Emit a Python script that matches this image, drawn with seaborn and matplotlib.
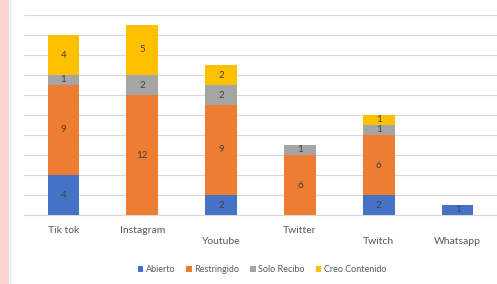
import numpy as np
import pandas as pd
import matplotlib.pyplot as plt
from matplotlib.patches import Rectangle
import seaborn as sns

# Data
platforms = ['Tik tok', 'Instagram', 'Youtube', 'Twitter', 'Twitch', 'Whatsapp']
abierto = [4, 0, 2, 0, 2, 1]
restringido = [9, 12, 9, 6, 6, 0]
solo_recibo = [1, 2, 2, 1, 1, 0]
creo_contenido = [4, 5, 2, 0, 1, 0]
# which tick labels sit on the lower row (Excel staggers them)
lower_row = [False, False, True, False, True, True]

series_names = ['Abierto', 'Restringido', 'Solo Recibo', 'Creo Contenido']
series_colors = ['#4472C4', '#ED7D31', '#A5A5A5', '#FFC000']

sns.set_theme(style='white')
plt.rcParams['font.family'] = ['Lato', 'DejaVu Sans']

df = pd.DataFrame({
    'platform': platforms,
    'Abierto': abierto,
    'Restringido': restringido,
    'Solo Recibo': solo_recibo,
    'Creo Contenido': creo_contenido,
})
cum = df[series_names].cumsum(axis=1)

fig = plt.figure(figsize=(4.97, 2.84), dpi=100)
fig.patches.append(Rectangle((0, 0), 9 / 497, 1, transform=fig.transFigure,
                             facecolor='#FCD5D3', edgecolor='none', zorder=0))
fig.lines.append(plt.Line2D([9.5 / 497, 9.5 / 497], [0, 1], transform=fig.transFigure,
                            color='#E6E6E6', linewidth=0.8))
ax = fig.add_axes([24 / 497, 69 / 284, 473 / 497, 200 / 284])

# stacked bars: draw cumulative totals from top series down
for name, color in reversed(list(zip(series_names, series_colors))):
    sns.barplot(x=df['platform'], y=cum[name], color=color, width=0.4,
                saturation=1, ax=ax, label=name, zorder=3, linewidth=0)

# value labels in the middle of each segment
for i, p in enumerate(platforms):
    for name in series_names:
        v = df.loc[i, name]
        if v > 0:
            ax.text(i, cum.loc[i, name] - v / 2, str(v), ha='center', va='center',
                    fontsize=7, color='#404040', zorder=4)

ax.set_ylim(0, 20)
ax.set_yticks(np.arange(0, 21, 2))
ax.set_yticklabels([])
ax.tick_params(axis='y', length=0)
ax.yaxis.grid(True, color='#D9D9D9', linewidth=0.8, zorder=0)
ax.set_axisbelow(True)
ax.set_xlim(-0.5, len(platforms) - 0.5)
ax.set_xticks(range(len(platforms)))
ax.set_xticklabels(['\n' + p if low else p for p, low in zip(platforms, lower_row)],
                   fontsize=7.5, color='#595959')
ax.tick_params(axis='x', length=0, pad=8)
ax.set_xlabel('')
ax.set_ylabel('')
for s in ['top', 'right', 'left']:
    ax.spines[s].set_visible(False)
ax.spines['bottom'].set_color('#D9D9D9')
ax.spines['bottom'].set_linewidth(0.8)

handles, labels = ax.get_legend_handles_labels()
order = [labels.index(n) for n in series_names]
ax.legend([handles[k] for k in order], series_names, loc='center',
          bbox_to_anchor=(262 / 497, 14 / 284), bbox_transform=fig.transFigure,
          ncol=4, frameon=False, fontsize=6.5, handlelength=0.6, handleheight=0.6,
          handletextpad=0.3, columnspacing=1.2, labelcolor='#595959')

fig.savefig('out.png', dpi=100)
